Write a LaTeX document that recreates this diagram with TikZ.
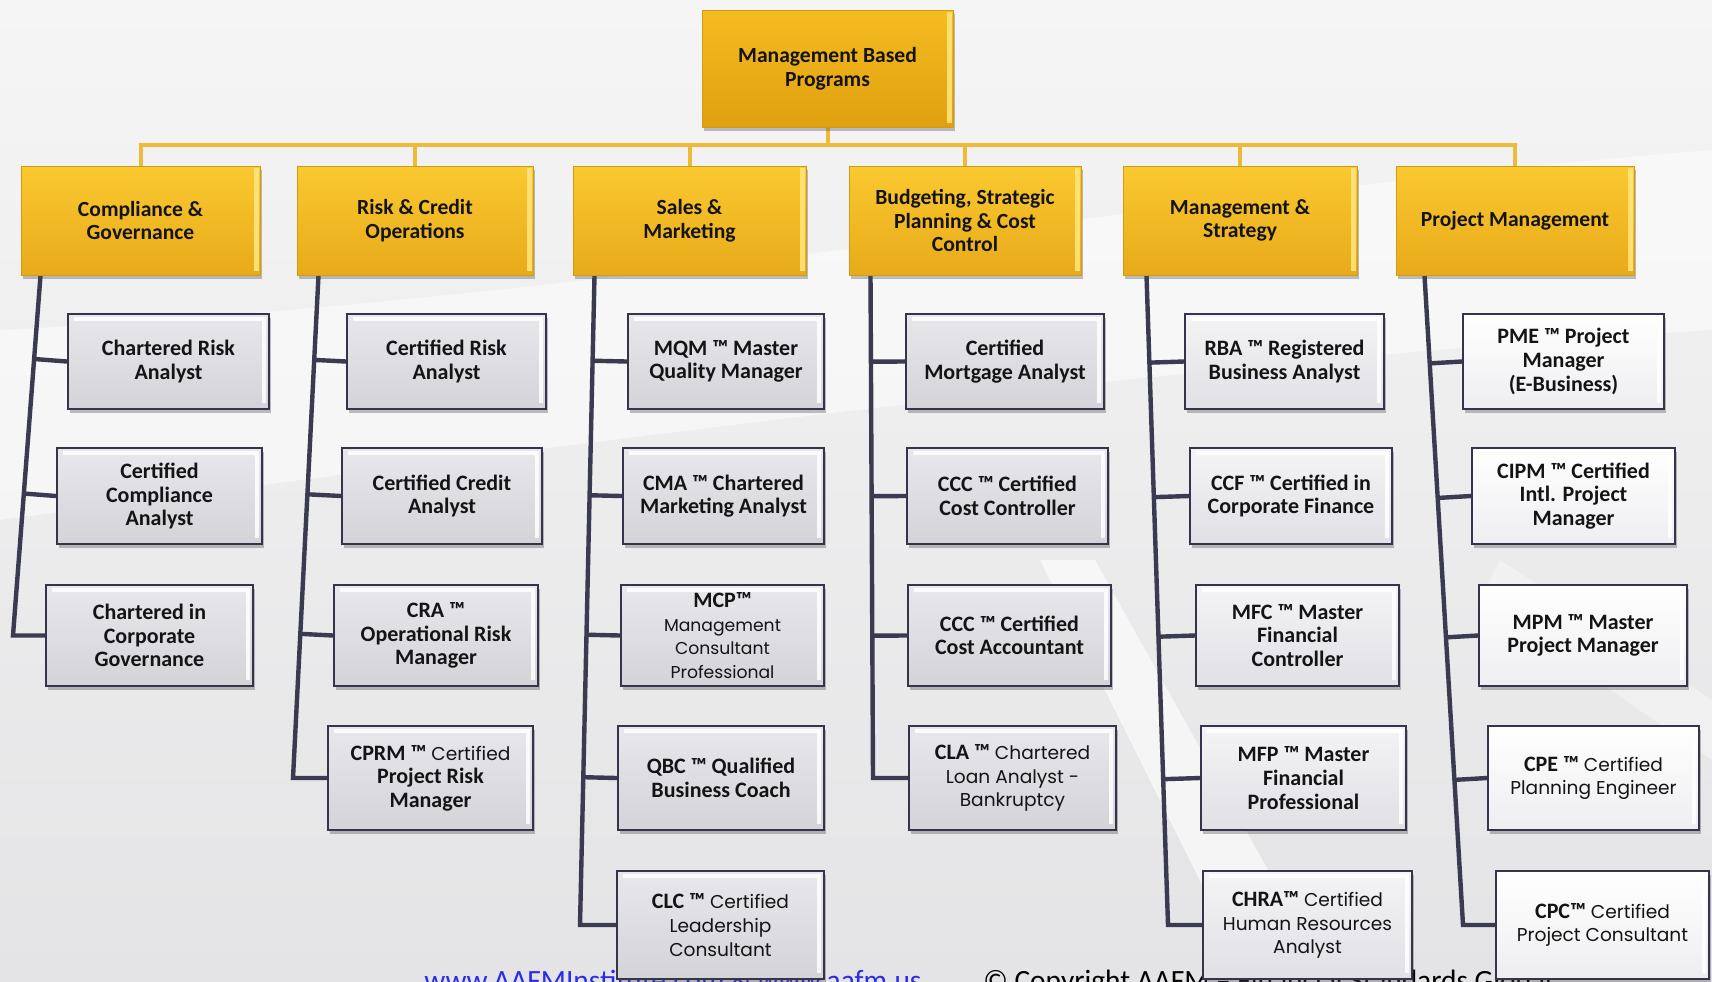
\documentclass[tikz,border=0pt]{standalone}
\usepackage{fontspec}
\setmainfont{Carlito}
\newfontfamily\goth{Poppins}
\usetikzlibrary{shadows,calc}
\pgfdeclarelayer{back}\pgfdeclarelayer{mid}
\pgfsetlayers{back,mid,main}
\definecolor{goldT}{HTML}{FAC930}
\definecolor{goldB}{HTML}{E8AA1A}
\definecolor{goldD}{HTML}{D49A14}
\definecolor{goldH}{HTML}{FFE57A}
\definecolor{topT}{HTML}{F5BC20}
\definecolor{topB}{HTML}{E0A010}
\definecolor{chT}{HTML}{E8E8EC}
\definecolor{chB}{HTML}{D3D3D8}
\definecolor{chD}{HTML}{34344A}
\definecolor{ltT}{HTML}{F4F4F6}
\definecolor{ltB}{HTML}{E0E0E5}
\definecolor{whT}{HTML}{FFFFFF}
\definecolor{whB}{HTML}{EEEEF1}
\definecolor{spineC}{HTML}{3A3A50}
\definecolor{ylineC}{HTML}{EDBB3C}
\definecolor{linkC}{HTML}{2B2BE8}
\definecolor{bgT}{HTML}{F5F5F5}
\definecolor{bgB}{HTML}{E4E4E6}
\newcommand\mkbox[7]{\node[#6,minimum width={(#4-#2)*0.5pt},minimum height={(#5-#3)*0.5pt}] (#1) at ({(#2+#4)/2},{(#3+#5)/2}) {#7};}
\newcommand\gth[1]{{\goth\mdseries\fontsize{9.3}{11.8}\selectfont #1}}
\newcommand\gths[1]{{\goth\mdseries\fontsize{8.6}{11}\selectfont #1}}
\begin{document}
\begin{tikzpicture}[x=0.5pt,y=-0.5pt,
  boxbase/.style={align=center,inner sep=0pt,text=black!92,
    font=\bfseries\fontsize{10.8}{11.8}\selectfont,
    drop shadow={shadow xshift=1.2pt,shadow yshift=-2pt,opacity=.35,fill=black!70}},
  catbox/.style={boxbase,top color=goldT,bottom color=goldB,draw=goldD,line width=.5pt,
    path picture={\draw[goldH,line width=2.5pt,opacity=.9]
      ([xshift=-2pt,yshift=-1pt]path picture bounding box.north east) --
      ([xshift=-2pt,yshift=2pt]path picture bounding box.south east);}},
  topbox/.style={catbox,top color=topT,bottom color=topB},
  kidbox/.style={boxbase,top color=chT,bottom color=chB,draw=chD,line width=1.1pt,
    font=\bfseries\fontsize{11}{11.8}\selectfont,
    path picture={\draw[white,line width=2.2pt,opacity=.85]
      ([xshift=3pt,yshift=-2.5pt]path picture bounding box.north west) --
      ([xshift=-2.5pt,yshift=-2.5pt]path picture bounding box.north east) --
      ([xshift=-2.5pt,yshift=3pt]path picture bounding box.south east);}},
  litebox/.style={kidbox,top color=ltT,bottom color=ltB},
  whitebox/.style={kidbox,top color=whT,bottom color=whB},
  yconn/.style={ylineC,line width=2pt},
  spine/.style={spineC,line width=2.2pt}]
\useasboundingbox (0,0) rectangle (1712,981);

\begin{pgfonlayer}{back}
\shade[top color=bgT,bottom color=bgB] (0,0) rectangle (1712,981);
\fill[white,opacity=.5] (0,330) .. controls (600,300) and (1200,190) .. (1712,150)
  -- (1712,330) .. controls (1200,360) and (600,440) .. (0,520) -- cycle;
\fill[white,opacity=.6] (1040,560) -- (1095,560) -- (1330,981) -- (1250,981) -- cycle;
\fill[white,opacity=.35] (1500,560) -- (1712,700) -- (1712,760) -- (1480,600) -- cycle;
\node[anchor=base west,inner sep=0pt,text=linkC,font=\fontsize{14.7}{16}\selectfont]
  (link) at (424,990) {www.AAFMInstitute.com \& www.aafm.us};
\node[anchor=base west,inner sep=0pt,text=black,font=\fontsize{14.7}{16}\selectfont]
  (copy) at (983,990) {© Copyright AAFM – Financial Standards Global};
\end{pgfonlayer}

% top and categories
\mkbox{top}{702}{10}{953}{127}{topbox}{Management Based\\Programs}
\mkbox{cat1}{21}{166}{260}{275}{catbox}{Compliance \&\\Governance}
\mkbox{cat2}{297}{166}{533}{275}{catbox}{Risk \& Credit\\Operations}
\mkbox{cat3}{573}{166}{806}{275}{catbox}{Sales \&\\Marketing}
\mkbox{cat4}{849}{166}{1081}{275}{catbox}{Budgeting, Strategic\\Planning \& Cost\\Control}
\mkbox{cat5}{1123}{166}{1357}{275}{catbox}{Management \&\\Strategy}
\mkbox{cat6}{1396}{166}{1634}{275}{catbox}{Project Management}

% column 1
\mkbox{c11}{68}{314}{269}{409}{kidbox}{Chartered Risk\\Analyst}
\mkbox{c12}{57}{448}{262}{544}{kidbox}{Certified\\Compliance\\Analyst}
\mkbox{c13}{46}{585}{253}{686}{kidbox}{Chartered in\\Corporate\\Governance}
% column 2
\mkbox{c21}{347}{314}{546}{409}{kidbox}{Certified Risk\\Analyst}
\mkbox{c22}{342}{448}{542}{544}{kidbox}{Certified Credit\\Analyst}
\mkbox{c23}{334}{585}{538}{686}{kidbox}{CRA ™\\Operational Risk\\Manager}
\mkbox{c24}{328}{726}{533}{830}{kidbox}{CPRM ™ \gth{Certified}\\Project Risk\\Manager}
% column 3
\mkbox{c31}{628}{314}{824}{409}{kidbox}{MQM ™ Master\\Quality Manager}
\mkbox{c32}{623}{448}{824}{544}{kidbox}{CMA ™ Chartered\\Marketing Analyst}
\mkbox{c33}{621}{585}{824}{686}{kidbox}{MCP™\\\gths{Management}\\\gths{Consultant}\\\gths{Professional}}
\mkbox{c34}{618}{726}{824}{830}{kidbox}{QBC ™ Qualified\\Business Coach}
\mkbox{c35}{617}{871}{824}{979}{kidbox}{CLC ™ \gth{Certified}\\\gth{Leadership}\\\gth{Consultant}}
% column 4
\mkbox{c41}{906}{314}{1104}{409}{kidbox}{Certified\\Mortgage Analyst}
\mkbox{c42}{907}{448}{1108}{544}{kidbox}{CCC ™ Certified\\Cost Controller}
\mkbox{c43}{908}{585}{1111}{686}{kidbox}{CCC ™ Certified\\Cost Accountant}
\mkbox{c44}{909}{726}{1116}{830}{kidbox}{CLA ™ \gth{Chartered}\\\gth{Loan Analyst -}\\\gth{Bankruptcy}}
% column 5
\mkbox{c51}{1185}{314}{1384}{409}{litebox}{RBA ™ Registered\\Business Analyst}
\mkbox{c52}{1190}{448}{1392}{544}{litebox}{CCF ™ Certified in\\Corporate Finance}
\mkbox{c53}{1196}{585}{1399}{686}{litebox}{MFC ™ Master\\Financial\\Controller}
\mkbox{c54}{1201}{726}{1406}{830}{litebox}{MFP ™ Master\\Financial\\Professional}
\mkbox{c55}{1203}{871}{1412}{979}{litebox}{CHRA™ \gth{Certified}\\\gth{Human Resources}\\\gth{Analyst}}
% column 6
\mkbox{c61}{1463}{314}{1664}{409}{whitebox}{PME ™ Project\\Manager\\(E-Business)}
\mkbox{c62}{1472}{448}{1675}{544}{whitebox}{CIPM ™ Certified\\Intl. Project\\Manager}
\mkbox{c63}{1479}{585}{1687}{686}{whitebox}{MPM ™ Master\\Project Manager}
\mkbox{c64}{1488}{726}{1699}{830}{whitebox}{CPE ™ \gth{Certified}\\\gth{Planning Engineer}}
\mkbox{c65}{1496}{871}{1709}{979}{whitebox}{CPC™ \gth{Certified}\\\gth{Project Consultant}}

\begin{pgfonlayer}{mid}
\coordinate (hub) at (827.5,145);
\foreach \i in {1,...,6} \draw[yconn] (top.south) -- (hub) -| (cat\i.north);
% spines
\coordinate (s1t) at ([xshift=10pt]cat1.south west);
\coordinate (s1b) at (13,635.5);
\draw[spine] (s1t) -- (s1b) -- (c13.west);
\foreach \j in {1,2} \draw[spine] (c1\j.west) -- ($(s1t)!(c1\j.west)!(s1b)$);
\coordinate (s2t) at ([xshift=11pt]cat2.south west);
\coordinate (s2b) at (293,778);
\draw[spine] (s2t) -- (s2b) -- (c24.west);
\foreach \j in {1,2,3} \draw[spine] (c2\j.west) -- ($(s2t)!(c2\j.west)!(s2b)$);
\coordinate (s3t) at ([xshift=11pt]cat3.south west);
\coordinate (s3b) at (580,925);
\draw[spine] (s3t) -- (s3b) -- (c35.west);
\foreach \j in {1,2,3,4} \draw[spine] (c3\j.west) -- ($(s3t)!(c3\j.west)!(s3b)$);
\coordinate (s4t) at ([xshift=11pt]cat4.south west);
\coordinate (s4b) at (873,778);
\draw[spine] (s4t) -- (s4b) -- (c44.west);
\foreach \j in {1,2,3} \draw[spine] (c4\j.west) -- ($(s4t)!(c4\j.west)!(s4b)$);
\coordinate (s5t) at ([xshift=12pt]cat5.south west);
\coordinate (s5b) at (1168,925);
\draw[spine] (s5t) -- (s5b) -- (c55.west);
\foreach \j in {1,2,3,4} \draw[spine] (c5\j.west) -- ($(s5t)!(c5\j.west)!(s5b)$);
\coordinate (s6t) at ([xshift=14.5pt]cat6.south west);
\coordinate (s6b) at (1463,925);
\draw[spine] (s6t) -- (s6b) -- (c65.west);
\foreach \j in {1,2,3,4} \draw[spine] (c6\j.west) -- ($(s6t)!(c6\j.west)!(s6b)$);
\end{pgfonlayer}
\end{tikzpicture}
\end{document}
